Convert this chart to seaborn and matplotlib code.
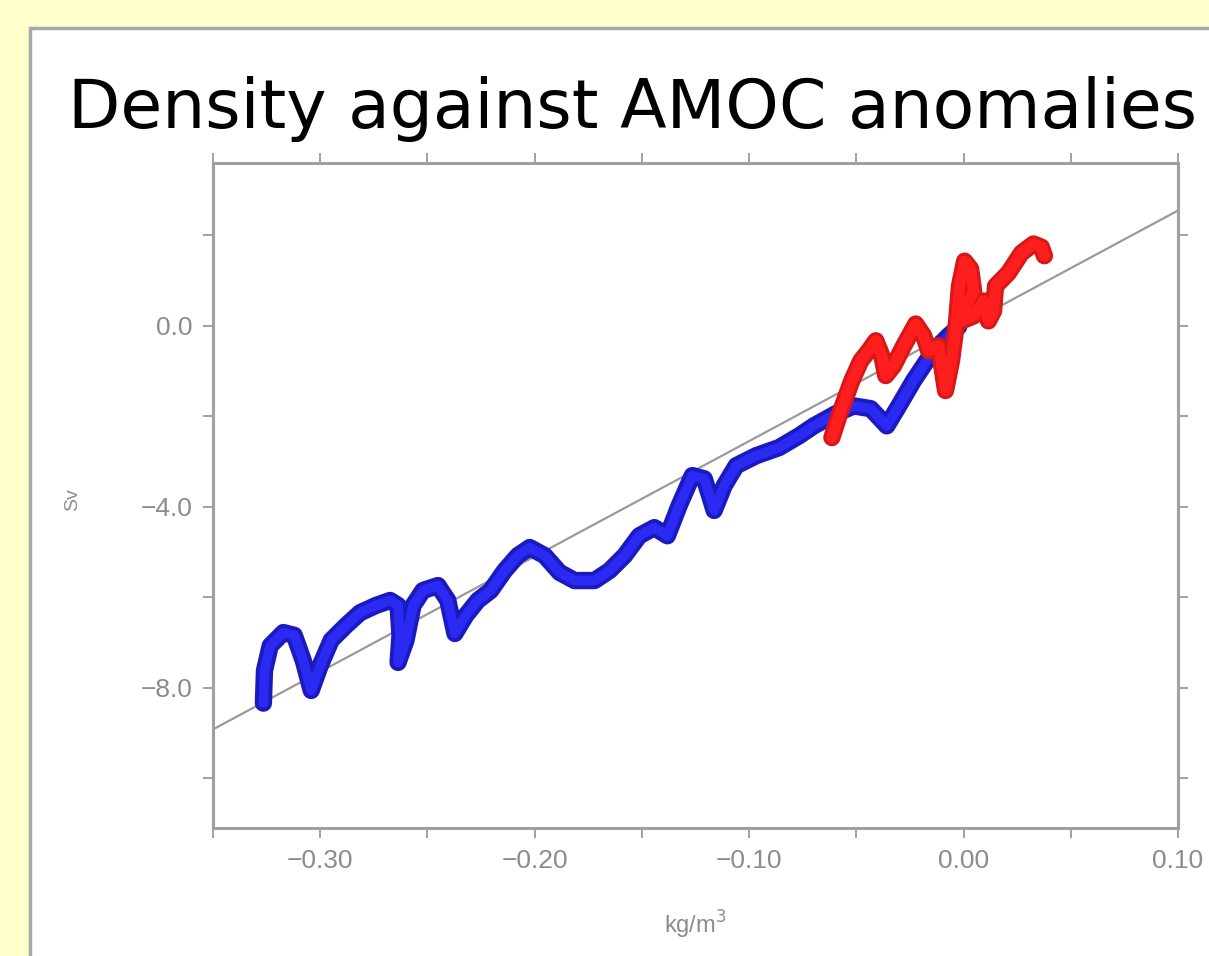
import matplotlib
matplotlib.use("Agg")
import matplotlib.pyplot as plt
from matplotlib.patches import Rectangle
from matplotlib.ticker import FixedLocator, FuncFormatter
import seaborn as sns
import pandas as pd

# ---------------- data ----------------
blue_x = [-0.3265, -0.3260, -0.3233, -0.3172, -0.3121, -0.3079, -0.3042, -0.3000,
          -0.2949, -0.2879, -0.2814, -0.2740, -0.2674, -0.2637, -0.2628, -0.2637,
          -0.2600, -0.2567, -0.2521, -0.2451, -0.2405, -0.2372, -0.2321, -0.2265,
          -0.2205, -0.2140, -0.2079, -0.2023, -0.1953, -0.1884, -0.1814, -0.1721,
          -0.1651, -0.1581, -0.1512, -0.1442, -0.1381, -0.1326, -0.1265, -0.1209,
          -0.1163, -0.1116, -0.1060, -0.0967, -0.0860, -0.0767, -0.0698, -0.0595,
          -0.0512, -0.0433, -0.0358, -0.0302, -0.0233, -0.0140, -0.0070, -0.0023]
blue_y = [-8.34, -7.62, -7.07, -6.78, -6.84, -7.40, -8.06, -7.51,
          -6.95, -6.62, -6.34, -6.18, -6.07, -6.18, -6.84, -7.44,
          -6.95, -6.18, -5.85, -5.74, -6.07, -6.80, -6.40, -6.07,
          -5.85, -5.41, -5.08, -4.90, -5.08, -5.45, -5.63, -5.63,
          -5.41, -5.08, -4.64, -4.46, -4.64, -3.97, -3.31, -3.38,
          -4.08, -3.53, -3.09, -2.87, -2.69, -2.43, -2.21, -1.94,
          -1.77, -1.83, -2.21, -1.77, -1.21, -0.55, -0.22, -0.02]

red_x = [-0.0614, -0.0581, -0.0521, -0.0479, -0.0442, -0.0409, -0.0381, -0.0363,
         -0.0326, -0.0279, -0.0223, -0.0186, -0.0163, -0.0116, -0.0084, -0.0056,
         -0.0033, -0.0019, 0.0005, 0.0033, 0.0047, 0.0014, -0.0009, 0.0047,
         0.0093, 0.0116, 0.0140, 0.0149, 0.0209, 0.0270, 0.0326, 0.0363, 0.0377]
red_y = [-2.47, -1.99, -1.21, -0.77, -0.55, -0.33, -0.66, -1.10,
         -0.88, -0.44, 0.04, -0.22, -0.55, -0.44, -1.43, -0.77,
         0.07, 0.88, 1.43, 1.26, 0.77, 0.44, 0.11, 0.22,
         0.55, 0.11, 0.33, 0.88, 1.17, 1.61, 1.81, 1.74, 1.55]

fit_x = [-0.35, 0.10]
fit_y = [-8.92, 2.55]

x_ticks = [-0.30, -0.20, -0.10, 0.00, 0.10]
x_minor = [-0.35, -0.25, -0.15, -0.05, 0.05]
y_ticks = [0.0, -4.0, -8.0]
y_minor = [2.0, -2.0, -6.0, -10.0]

title_text = "Density against AMOC anomalies"
x_label = "kg/m$^3$"
y_label = "Sv"

# ---------------- figure ----------------
sns.set_style("white")
plt.rcParams["font.family"] = ["Liberation Sans", "DejaVu Sans"]

W, H = 1209, 956
fig = plt.figure(figsize=(W / 100, H / 100), dpi=100, facecolor="#FFFFCC")

# white panel with grey border (behind everything)
panel = Rectangle((30 / W, -0.2), 1.2, (H - 28) / H + 0.2,
                  transform=fig.transFigure, facecolor="white",
                  edgecolor="#A8A8A8", linewidth=2.5, zorder=-10)
fig.patches.append(panel)

ax = fig.add_axes([213 / W, 1 - 828 / H, (1178 - 213) / W, (828 - 163) / H])
ax.set_zorder(5)
ax.set_facecolor("white")

sns.lineplot(x=fit_x, y=fit_y, ax=ax, color="#9A9A9A", linewidth=1.6, zorder=1,
             estimator=None)

df_b = pd.DataFrame({"x": blue_x, "y": blue_y})
df_r = pd.DataFrame({"x": red_x, "y": red_y})
common = dict(sort=False, estimator=None, ax=ax,
              solid_capstyle="round", solid_joinstyle="round")
sns.lineplot(data=df_b, x="x", y="y", color="#1A1AC0", linewidth=12.5, zorder=2, **common)
sns.lineplot(data=df_b, x="x", y="y", color="#2A2AF2", linewidth=7, zorder=3, **common)
sns.lineplot(data=df_r, x="x", y="y", color="#D81818", linewidth=12.5, zorder=4, **common)
sns.lineplot(data=df_r, x="x", y="y", color="#FF1E1E", linewidth=8, zorder=5, **common)

ax.set_xlim(-0.35, 0.10)
ax.set_ylim(-11.1, 3.6)

ax.xaxis.set_major_locator(FixedLocator(x_ticks))
ax.xaxis.set_minor_locator(FixedLocator(x_minor))
ax.yaxis.set_major_locator(FixedLocator(y_ticks))
ax.yaxis.set_minor_locator(FixedLocator(y_minor))
ax.xaxis.set_major_formatter(FuncFormatter(lambda v, p: f"{v:.2f}".replace("-", "\u2212")))
ax.yaxis.set_major_formatter(FuncFormatter(lambda v, p: f"{v:.1f}".replace("-", "\u2212")))

for s in ax.spines.values():
    s.set_color("#A0A0A0")
    s.set_linewidth(2.2)
    s.set_visible(True)

ax.tick_params(which="both", direction="out", length=7, width=1.2, color="#909090",
               top=True, right=True, bottom=True, left=True,
               labelsize=19, labelcolor="#8C8C8C", pad=8)

ax.set_xlabel(x_label, fontsize=17, color="#8C8C8C", labelpad=26)
ax.set_ylabel("")
fig.text(73 / W, 1 - 500 / H, y_label, rotation=90, fontsize=14, color="#8C8C8C",
         ha="center", va="center")

fig.text(68 / W, 1 - 128 / H, title_text, fontsize=49, color="black",
         ha="left", va="baseline", family=["DejaVu Sans"])

fig.savefig("out.png", dpi=100, facecolor=fig.get_facecolor())
